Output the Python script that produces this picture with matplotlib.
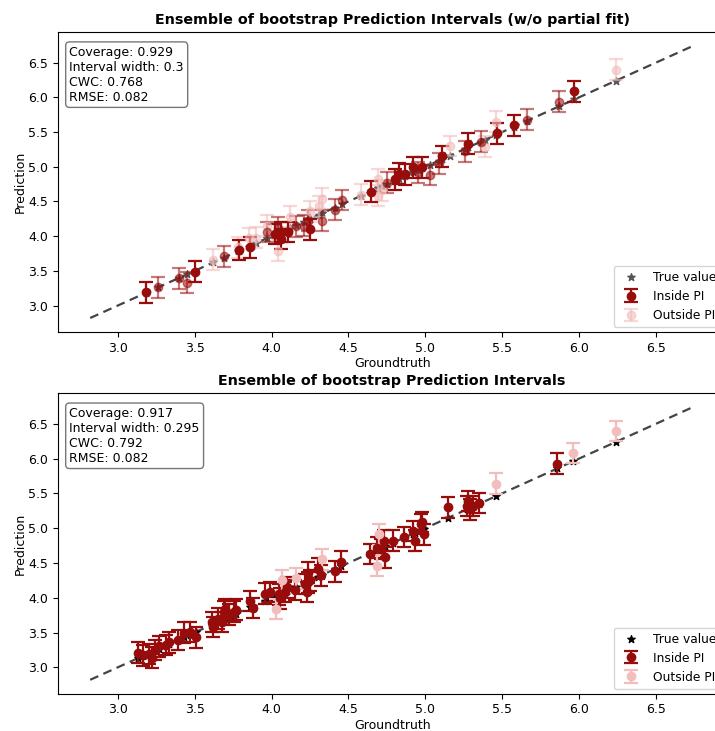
import numpy as np
import matplotlib.pyplot as plt

# top panel: groundtruth, prediction, kind (d = inside, m = inside faded, l = outside)
top_gt = [3.18, 3.26, 3.40, 3.45, 3.50, 3.62, 3.69, 3.78, 3.79, 3.86,
          3.85, 3.90, 3.97, 3.97, 4.02, 4.06, 4.06, 4.11, 4.04, 4.04,
          4.12, 4.16, 4.21, 4.24, 4.25, 4.25, 4.31, 4.33, 4.33, 4.41,
          4.46, 4.58, 4.65, 4.69, 4.69, 4.72, 4.75, 4.80, 4.83, 4.87,
          4.92, 4.95, 4.98, 5.03, 5.09, 5.11, 5.16, 5.26, 5.28, 5.36,
          5.39, 5.46, 5.47, 5.58, 5.66, 5.87, 5.97, 6.24]
top_pred = [3.19, 3.26, 3.39, 3.33, 3.49, 3.66, 3.71, 3.84, 3.80, 3.84,
            3.97, 3.98, 4.06, 4.15, 4.03, 4.06, 3.96, 4.06, 4.12, 3.79,
            4.28, 4.14, 4.15, 4.22, 4.10, 4.36, 4.43, 4.22, 4.54, 4.38,
            4.52, 4.60, 4.64, 4.58, 4.82, 4.66, 4.77, 4.82, 4.90, 4.89,
            4.99, 4.92, 4.99, 4.88, 5.05, 5.15, 5.30, 5.22, 5.33, 5.36,
            5.29, 5.65, 5.48, 5.60, 5.68, 5.94, 6.09, 6.40]
top_kind = ["d", "m", "m", "m", "d", "l", "m", "l", "d", "d",
            "l", "l", "m", "l", "d", "d", "d", "d", "m", "l",
            "l", "m", "m", "m", "d", "l", "l", "m", "l", "m",
            "m", "l", "d", "l", "l", "l", "m", "d", "d", "d",
            "d", "m", "d", "m", "m", "d", "l", "m", "d", "m",
            "l", "l", "d", "d", "m", "m", "d", "l"]
top_half_width = 0.15
top_metrics = ["Coverage: 0.929", "Interval width: 0.3", "CWC: 0.768", "RMSE: 0.082"]

# bottom panel: groundtruth, prediction, inside (i) / outside (o)
bot_gt = [3.13, 3.165, 3.20, 3.22, 3.24, 3.27, 3.31, 3.33, 3.39, 3.43,
          3.47, 3.51, 3.61, 3.62, 3.65, 3.675, 3.69, 3.70, 3.72, 3.755,
          3.77, 3.86, 3.88, 3.96, 3.99, 4.03, 4.05, 4.055, 4.07, 4.09,
          4.10, 4.15, 4.16, 4.22, 4.23, 4.24, 4.25, 4.24, 4.30, 4.32,
          4.33, 4.41, 4.45, 4.64, 4.685, 4.685, 4.70, 4.71, 4.73, 4.74,
          4.79, 4.86, 4.92, 4.93, 4.97, 4.99, 4.98, 5.15, 5.27, 5.28,
          5.29, 5.31, 5.35, 5.46, 5.86, 5.96, 6.24]
bot_pred = [3.21, 3.17, 3.19, 3.14, 3.25, 3.30, 3.32, 3.36, 3.39, 3.50,
            3.51, 3.43, 3.65, 3.58, 3.70, 3.65, 3.80, 3.84, 3.76, 3.80,
            3.83, 3.95, 3.85, 4.06, 4.08, 3.84, 4.05, 3.99, 4.25, 4.08,
            4.15, 4.11, 4.28, 4.20, 4.08, 4.22, 4.25, 4.36, 4.42, 4.32,
            4.55, 4.38, 4.52, 4.63, 4.72, 4.46, 4.91, 4.70, 4.82, 4.58,
            4.82, 4.87, 4.96, 4.82, 5.06, 4.91, 5.09, 5.30, 5.32, 5.39,
            5.27, 5.32, 5.36, 5.64, 5.93, 6.08, 6.40]
bot_kind = ["i", "i", "i", "i", "i", "i", "i", "i", "i", "i",
            "i", "i", "i", "i", "i", "i", "i", "i", "i", "i",
            "i", "i", "i", "i", "i", "o", "i", "i", "o", "i",
            "i", "i", "o", "i", "i", "i", "i", "i", "i", "i",
            "o", "i", "i", "i", "i", "o", "o", "i", "i", "i",
            "i", "i", "i", "i", "i", "i", "i", "i", "i", "i",
            "i", "i", "i", "o", "i", "o", "o"]
bot_half_width = 0.1475
bot_metrics = ["Coverage: 0.917", "Interval width: 0.295", "CWC: 0.792", "RMSE: 0.082"]

DARK = "#990c0c"
PINK = "#f2bdbd"

# identity line spans the full data range (same in both panels)
line_lo = min(bot_gt + bot_pred) - 0.31
line_hi = max(bot_gt + bot_pred) + 0.33


def panel(ax, gt, pred, kind, hw, metrics, title, styles, star_color):
    gt = np.array(gt)
    pred = np.array(pred)
    kind = np.array(kind)
    ax.plot([line_lo, line_hi], [line_lo, line_hi], ls="--", color="#444444", lw=1.6,
            dashes=(4, 2.5), zorder=1)
    ax.scatter(gt, gt, marker="*", color=star_color, s=30, zorder=2, label="True value")
    for k, (color, alpha, label) in styles.items():
        m = kind == k
        ax.errorbar(gt[m], pred[m], yerr=hw, fmt="o", color=color, alpha=alpha,
                    ms=6, elinewidth=1.6, capsize=5, capthick=1.6, zorder=3, label=label)
    ax.text(0.017, 0.955, "\n".join(metrics), transform=ax.transAxes, va="top", ha="left",
            fontsize=9, bbox=dict(boxstyle="round,pad=0.3", fc="white", ec="#777777"))
    ax.set_xlim(2.61, 7.02)
    ax.set_ylim(2.62, 6.94)
    ax.set_xticks(np.arange(3.0, 6.6, 0.5))
    ax.set_yticks(np.arange(3.0, 6.6, 0.5))
    ax.tick_params(labelsize=9)
    ax.set_xlabel("Groundtruth", fontsize=9, labelpad=2, x=0.493)
    ax.set_ylabel("Prediction", fontsize=9, labelpad=1)
    ax.set_title(title, fontsize=10.3, fontweight="bold", x=0.493)
    h, l = ax.get_legend_handles_labels()
    keep = [l.index(x) for x in ["True value", "Inside PI", "Outside PI"]]
    ax.legend([h[i] for i in keep], [l[i] for i in keep], loc="lower left",
              bbox_to_anchor=(0.82, 0.017), borderaxespad=0, fontsize=8.8)


fig = plt.figure(figsize=(7.15, 7.31), dpi=100)
ax1 = fig.add_axes([0.081, 0.546, 0.948, 0.41])
ax2 = fig.add_axes([0.081, 0.051, 0.948, 0.411])

panel(ax1, top_gt, top_pred, top_kind, top_half_width, top_metrics,
      "Ensemble of bootstrap Prediction Intervals (w/o partial fit)",
      {"l": (PINK, 0.6, "Outside PI"), "m": (DARK, 0.55, "_m"), "d": (DARK, 1.0, "Inside PI")},
      "#555555")
panel(ax2, bot_gt, bot_pred, bot_kind, bot_half_width, bot_metrics,
      "Ensemble of bootstrap Prediction Intervals",
      {"i": (DARK, 1.0, "Inside PI"), "o": (PINK, 1.0, "Outside PI")},
      "black")

fig.savefig("out.png", dpi=100)
